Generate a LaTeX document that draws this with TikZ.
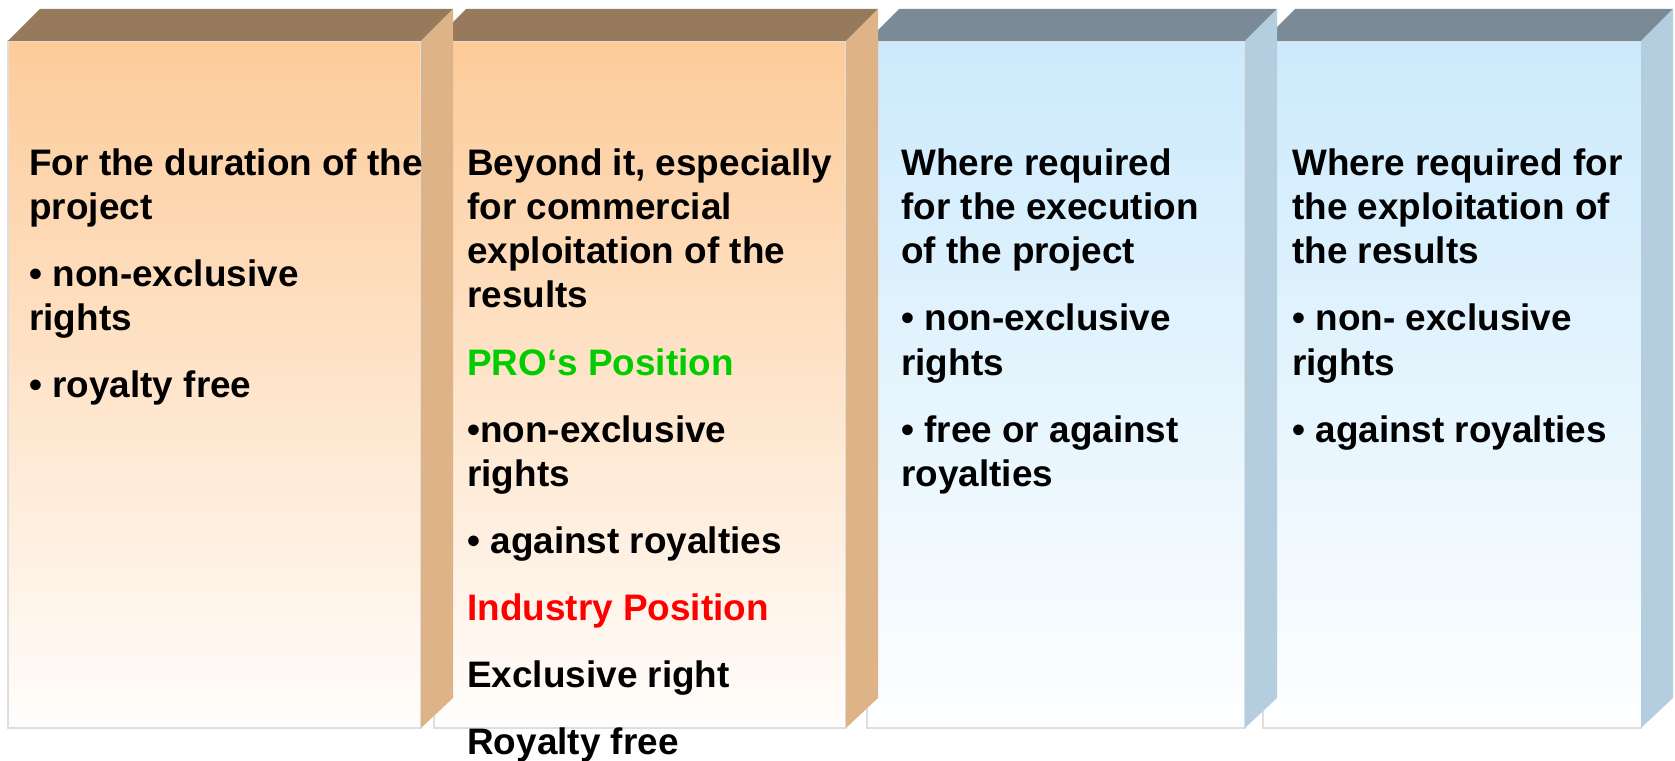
\documentclass[tikz,border=0pt]{standalone}
\usepackage{fontspec}
\setmainfont{Liberation Sans}
\usepackage{xcolor}
\definecolor{peachfront}{HTML}{FDCB99}
\definecolor{peachlid}{HTML}{977A5B}
\definecolor{peachside}{HTML}{DEB387}
\definecolor{bluefront}{HTML}{CCEAFC}
\definecolor{bluelid}{HTML}{7A8A96}
\definecolor{blueside}{HTML}{B4CEDF}
\definecolor{proGreen}{HTML}{00CC00}
\definecolor{indRed}{HTML}{FF0000}

\begin{document}
\begin{tikzpicture}[x=0.02cm,y=-0.02cm,
  front/.style={draw=black!13,line width=0.6pt},
  peach/.style={front,top color=peachfront,bottom color=white!97!peachfront},
  blue/.style={front,top color=bluefront,bottom color=white!97!bluefront},
  boxtext/.style={anchor=north west,inner sep=0pt,align=left,
    font=\bfseries\fontsize{21}{25.2}\selectfont}]
\useasboundingbox (0,0) rectangle (1675,760);
\path[blue] (1263,41) rectangle (1641,728);
\fill[bluelid] (1263,41) -- (1295,9) -- (1673,9) -- (1641,41) -- cycle;
\fill[blueside] (1641,41) -- (1673,9) -- (1673,698) -- (1641,728) -- cycle;
\path[blue] (867,41) rectangle (1245,728);
\fill[bluelid] (867,41) -- (899,9) -- (1277,9) -- (1245,41) -- cycle;
\fill[blueside] (1245,41) -- (1277,9) -- (1277,698) -- (1245,728) -- cycle;
\path[peach] (434,41) rectangle (846,728);
\fill[peachlid] (434,41) -- (466,9) -- (878,9) -- (846,41) -- cycle;
\fill[peachside] (846,41) -- (878,9) -- (878,698) -- (846,728) -- cycle;
\path[peach] (8,41) rectangle (421,728);
\fill[peachlid] (8,41) -- (40,9) -- (453,9) -- (421,41) -- cycle;
\fill[peachside] (421,41) -- (453,9) -- (453,698) -- (421,728) -- cycle;
\node[boxtext] (duration) at (29,148) {For the duration of the\\project\\[13pt]
  • non-exclusive\\rights\\[13pt]• royalty free};
\node[boxtext] (beyond) at (467,148) {Beyond it, especially\\for commercial\\exploitation of the\\results\\[13pt]
  \textcolor{proGreen}{PRO‘s Position}\\[13pt]•non-exclusive\\rights\\[13pt]• against royalties\\[13pt]
  \textcolor{indRed}{Industry Position}\\[13pt]Exclusive right\\[13pt]Royalty free};
\node[boxtext] (execution) at (901,148) {Where required\\for the execution\\of the project\\[13pt]
  • non-exclusive\\rights\\[13pt]• free or against\\royalties};
\node[boxtext] (exploitation) at (1292,148) {Where required for\\the exploitation of\\the results\\[13pt]
  • non- exclusive\\rights\\[13pt]• against royalties};
\end{tikzpicture}
\end{document}
